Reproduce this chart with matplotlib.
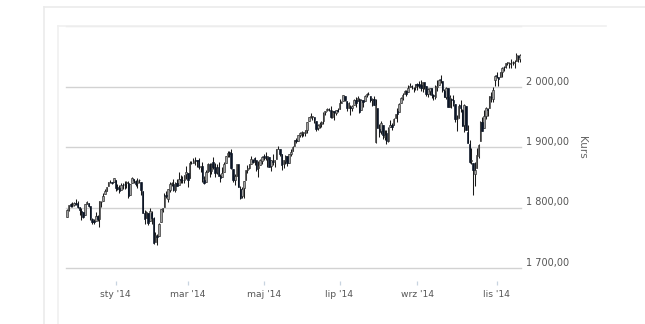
import matplotlib
matplotlib.use("Agg")
import matplotlib.pyplot as plt
import matplotlib.transforms as mtransforms
from matplotlib.lines import Line2D
import numpy as np
import pandas as pd

# Daily OHLC quotes, 21 Nov 2013 - 20 Nov 2014 (trading days only)
holidays = ["2013-11-28", "2013-12-25", "2014-01-01", "2014-01-20", "2014-02-17",
            "2014-04-18", "2014-05-26", "2014-07-04", "2014-09-01"]
start_date, end_date = "2013-11-21", "2014-11-20"

opens = [
    1783.5, 1796.0, 1806.3, 1802.9, 1803.5, 1808.0,
    1806.6, 1800.1, 1794.1, 1792.8, 1788.4, 1806.2, 1807.5, 1802.8, 1781.7, 1777.0, 1777.0,
    1786.5, 1781.5, 1809.0, 1810.4, 1822.9, 1828.0, 1834.9, 1842.9, 1841.5, 1842.6,
    1845.9, 1833.2, 1832.3, 1828.7, 1837.9, 1839.0, 1840.1, 1841.3, 1821.4, 1840.5, 1847.9,
    1844.2, 1841.1, 1844.7, 1842.3, 1826.9, 1791.0, 1783.0, 1790.2, 1777.2, 1790.9,
    1782.7, 1743.8, 1753.4, 1752.4, 1776.0, 1796.2, 1800.5, 1820.1, 1814.8, 1828.5, 1839.0,
    1838.9, 1829.2, 1841.1, 1836.8, 1847.7, 1845.8, 1844.9, 1855.1,
    1857.7, 1849.2, 1874.1, 1874.2, 1878.5, 1877.9, 1878.3, 1866.2, 1869.1, 1845.1, 1842.8,
    1858.9, 1872.3, 1860.1, 1874.5, 1867.7, 1859.5, 1867.1, 1852.1, 1850.1, 1859.2,
    1873.9, 1886.6, 1891.4, 1890.3, 1863.9, 1845.5, 1852.6, 1872.3, 1830.7, 1818.2, 1831.5,
    1846.0, 1861.7, 1865.8, 1872.6, 1879.3, 1881.0, 1877.7, 1865.0, 1870.8, 1877.1,
    1884.4, 1885.3, 1879.5, 1883.7, 1868.5, 1877.4, 1875.3, 1880.0, 1896.8, 1897.1, 1888.2,
    1871.2, 1876.7, 1884.9, 1873.3, 1888.2, 1893.3, 1902.0, 1911.8, 1910.6, 1920.3,
    1923.9, 1923.1, 1923.1, 1928.5, 1942.4, 1948.9, 1950.3, 1949.4, 1943.4, 1930.8, 1934.8,
    1937.2, 1942.7, 1957.5, 1960.5, 1962.9, 1961.9, 1949.3, 1959.9, 1956.6, 1960.8,
    1962.3, 1973.1, 1975.9, 1984.2, 1976.4, 1965.1, 1966.7, 1965.0, 1969.9, 1977.4, 1976.4,
    1979.8, 1961.5, 1976.9, 1975.7, 1985.3, 1988.1, 1984.6, 1978.3, 1980.0, 1907.5, 1965.1,
    1929.8, 1926.6, 1936.3, 1917.3, 1923.0, 1910.4, 1933.4, 1935.7, 1935.6, 1947.4, 1958.9,
    1958.4, 1972.7, 1980.5, 1986.8, 1992.6, 1991.7, 1998.6, 2000.5, 1997.4, 1998.5,
    2004.1, 2003.6, 2001.7, 1998.0, 2007.2, 2000.7, 1988.4, 1992.9, 1996.7, 1986.0, 1981.9,
    1999.3, 2003.1, 2012.7, 2009.1, 1992.8, 1983.3, 1997.3, 1966.2, 1978.9, 1978.2,
    1971.4, 1945.8, 1948.1, 1970.0, 1961.4, 1935.6, 1967.7, 1925.6, 1905.7, 1877.1, 1874.2,
    1855.9, 1864.9, 1885.6, 1909.4, 1941.3, 1931.0, 1951.6, 1962.0, 1964.1, 1983.3, 1979.5,
    2011.4,
    2018.2, 2015.8, 2015.3, 2023.3, 2032.4, 2032.0, 2038.2, 2037.8, 2039.2, 2039.7, 2038.3,
    2041.5, 2051.2, 2045.9,
]
highs = [
    1797.2, 1804.8, 1808.1, 1808.4, 1808.3, 1813.6,
    1811.5, 1800.1, 1799.8, 1792.8, 1806.0, 1811.5, 1808.0, 1802.8, 1782.0, 1780.8, 1792.2,
    1786.8, 1811.1, 1810.9, 1823.8, 1829.8, 1833.3, 1842.8, 1844.9, 1842.5, 1849.4,
    1845.9, 1838.2, 1837.2, 1840.1, 1840.0, 1843.2, 1843.2, 1843.5, 1839.3, 1850.8, 1847.9,
    1846.0, 1849.3, 1846.9, 1842.3, 1826.9, 1795.9, 1793.9, 1790.2, 1798.8, 1793.9,
    1784.8, 1758.7, 1755.8, 1774.1, 1798.0, 1799.9, 1823.5, 1826.6, 1830.3, 1841.7, 1842.9,
    1847.5, 1842.8, 1846.9, 1858.7, 1852.9, 1852.7, 1854.5, 1867.9,
    1857.7, 1876.2, 1876.5, 1881.9, 1883.6, 1877.9, 1882.4, 1868.4, 1874.4, 1852.4, 1862.3,
    1873.8, 1874.1, 1873.5, 1883.9, 1873.3, 1871.9, 1875.9, 1855.6, 1866.6, 1875.2,
    1885.8, 1893.2, 1893.8, 1897.3, 1864.0, 1854.9, 1872.4, 1872.5, 1835.1, 1834.2, 1844.0,
    1862.3, 1869.6, 1871.9, 1884.9, 1879.8, 1884.1, 1877.7, 1877.0, 1880.6, 1885.2,
    1888.6, 1891.3, 1885.5, 1883.7, 1878.8, 1889.1, 1878.6, 1897.1, 1902.2, 1897.1, 1888.2,
    1878.3, 1886.0, 1884.9, 1888.8, 1896.3, 1901.3, 1912.3, 1914.5, 1920.0, 1924.0,
    1925.9, 1925.1, 1928.6, 1941.7, 1949.4, 1955.6, 1950.9, 1949.4, 1943.7, 1937.3, 1941.2,
    1943.7, 1957.7, 1959.9, 1963.9, 1963.7, 1968.2, 1960.8, 1959.9, 1961.5, 1964.2,
    1978.6, 1976.7, 1985.6, 1984.2, 1976.4, 1973.8, 1969.8, 1968.7, 1979.9, 1982.5, 1983.9,
    1981.8, 1979.9, 1976.9, 1986.2, 1989.2, 1991.4, 1984.6, 1981.5, 1984.9, 1978.9, 1965.1,
    1937.4, 1942.9, 1936.3, 1927.9, 1928.9, 1932.4, 1944.9, 1939.5, 1948.4, 1955.2, 1964.0,
    1972.0, 1982.6, 1988.6, 1994.8, 1993.5, 2001.9, 2005.0, 2002.1, 1998.6, 2003.4,
    2006.1, 2009.3, 2011.2, 2007.7, 2007.2, 2001.0, 1996.7, 1997.7, 1996.7, 1987.2, 2002.3,
    2010.7, 2012.3, 2019.3, 2009.1, 1995.4, 1999.8, 1997.3, 1986.4, 1981.3, 1985.2,
    1971.4, 1952.3, 1971.2, 1977.8, 1962.4, 1970.4, 1967.7, 1936.0, 1912.1, 1898.7, 1874.2,
    1876.0, 1898.2, 1905.0, 1942.5, 1949.3, 1961.9, 1965.3, 1964.6, 1985.1, 1991.4, 1999.4,
    2018.2,
    2024.5, 2015.9, 2023.8, 2031.6, 2034.3, 2038.7, 2041.3, 2040.3, 2046.2, 2042.2, 2043.1,
    2056.1, 2052.1, 2053.8,
]
lows = [
    1783.5, 1794.7, 1800.6, 1800.8, 1802.6, 1803.9,
    1799.8, 1787.9, 1779.1, 1783.4, 1788.4, 1806.2, 1801.4, 1780.1, 1772.3, 1772.4, 1777.0,
    1777.2, 1767.9, 1801.3, 1810.4, 1822.9, 1828.0, 1834.9, 1839.8, 1838.8, 1842.4,
    1827.7, 1829.1, 1823.7, 1828.7, 1831.4, 1830.4, 1832.4, 1815.5, 1821.4, 1840.5, 1840.3,
    1835.2, 1832.4, 1840.9, 1820.1, 1790.3, 1772.9, 1783.0, 1770.5, 1777.2, 1772.3,
    1739.7, 1743.8, 1737.9, 1752.4, 1776.0, 1791.8, 1800.4, 1815.9, 1809.2, 1825.9, 1835.0,
    1826.8, 1824.9, 1835.6, 1836.8, 1840.2, 1840.7, 1841.1, 1847.5,
    1834.4, 1849.2, 1871.6, 1874.2, 1870.6, 1867.0, 1863.9, 1858.0, 1841.9, 1839.6, 1842.8,
    1858.9, 1850.4, 1854.6, 1863.5, 1849.7, 1855.9, 1852.6, 1842.1, 1850.1, 1859.2,
    1873.9, 1883.8, 1882.7, 1863.3, 1841.5, 1837.5, 1852.4, 1833.1, 1814.4, 1815.8, 1816.3,
    1846.0, 1856.7, 1863.2, 1872.6, 1873.9, 1870.2, 1859.7, 1850.6, 1870.8, 1872.7,
    1878.0, 1878.5, 1866.8, 1867.7, 1859.8, 1870.1, 1867.0, 1880.0, 1896.1, 1885.8, 1862.4,
    1864.8, 1872.4, 1868.1, 1873.3, 1885.4, 1893.3, 1902.0, 1906.5, 1909.8, 1916.6,
    1915.9, 1918.8, 1918.6, 1922.9, 1942.4, 1947.2, 1944.6, 1940.1, 1925.8, 1927.7, 1930.9,
    1933.6, 1937.4, 1952.3, 1959.2, 1958.9, 1948.3, 1947.5, 1944.7, 1953.0, 1958.2,
    1962.3, 1972.6, 1975.9, 1975.7, 1959.5, 1965.1, 1952.9, 1959.6, 1969.9, 1965.3, 1975.7,
    1955.6, 1960.8, 1965.8, 1975.7, 1982.4, 1985.8, 1974.4, 1967.3, 1969.9, 1906.9, 1930.7,
    1916.4, 1921.2, 1913.8, 1911.5, 1904.8, 1909.0, 1933.4, 1928.3, 1935.6, 1947.4, 1941.5,
    1958.4, 1972.7, 1977.7, 1986.8, 1984.8, 1991.7, 1998.6, 1996.2, 1990.5, 1994.7,
    1994.9, 1998.2, 1992.5, 1990.1, 1995.6, 1984.6, 1982.9, 1985.9, 1980.3, 1978.5, 1979.8,
    1993.3, 2003.1, 2006.6, 1991.0, 1982.4, 1978.6, 1965.9, 1966.2, 1964.0, 1968.0,
    1941.7, 1926.0, 1948.1, 1958.4, 1935.1, 1925.3, 1927.6, 1906.1, 1874.1, 1871.8, 1820.7,
    1835.0, 1864.9, 1882.3, 1909.4, 1926.8, 1931.0, 1946.3, 1951.4, 1964.1, 1974.8, 1974.0,
    2001.0,
    2013.7, 2001.0, 2015.3, 2015.9, 2025.7, 2030.2, 2035.3, 2031.3, 2030.4, 2035.2, 2030.2,
    2041.5, 2040.4, 2040.5,
]
closes = [
    1795.9, 1804.8, 1802.5, 1802.8, 1807.2, 1805.8,
    1800.9, 1795.2, 1792.8, 1785.0, 1805.1, 1808.4, 1802.6, 1782.2, 1775.5, 1775.3, 1786.5,
    1781.0, 1810.7, 1809.6, 1818.3, 1828.0, 1833.3, 1842.0, 1841.4, 1841.1, 1848.4,
    1832.0, 1831.4, 1826.8, 1837.9, 1837.5, 1838.1, 1842.4, 1819.2, 1838.9, 1848.4, 1845.9,
    1838.7, 1843.8, 1844.9, 1828.5, 1790.3, 1781.6, 1792.5, 1774.2, 1794.2, 1782.6,
    1741.9, 1755.2, 1751.6, 1773.4, 1797.0, 1799.8, 1819.8, 1819.3, 1829.8, 1838.6, 1840.8,
    1828.8, 1839.8, 1836.3, 1847.6, 1845.1, 1845.2, 1854.3, 1859.5,
    1845.7, 1873.9, 1873.8, 1877.0, 1878.0, 1877.2, 1867.6, 1868.2, 1846.3, 1841.1, 1858.8,
    1872.3, 1860.8, 1872.0, 1866.5, 1857.4, 1865.6, 1852.6, 1849.0, 1857.6, 1872.3,
    1885.5, 1890.9, 1888.8, 1865.1, 1845.0, 1852.0, 1872.2, 1833.1, 1815.7, 1830.6, 1843.0,
    1862.3, 1864.9, 1871.9, 1879.6, 1875.4, 1878.6, 1863.4, 1869.4, 1878.3, 1884.0,
    1883.7, 1881.1, 1884.7, 1867.7, 1878.2, 1875.6, 1878.5, 1896.7, 1897.5, 1888.5, 1870.9,
    1877.9, 1885.1, 1872.8, 1888.0, 1892.5, 1900.5, 1911.9, 1909.8, 1920.0, 1923.6,
    1925.0, 1924.2, 1927.9, 1940.5, 1949.4, 1951.3, 1950.8, 1943.9, 1930.1, 1936.2, 1937.8,
    1942.0, 1957.0, 1959.5, 1962.9, 1962.6, 1950.0, 1959.5, 1957.2, 1961.0, 1960.2,
    1973.3, 1974.6, 1985.4, 1977.7, 1963.7, 1972.8, 1964.7, 1967.6, 1977.1, 1973.3, 1981.6,
    1958.1, 1978.2, 1973.6, 1983.5, 1987.0, 1988.0, 1978.3, 1978.9, 1970.0, 1970.1, 1930.7,
    1925.2, 1939.0, 1920.2, 1920.2, 1909.6, 1931.6, 1936.9, 1933.8, 1946.7, 1955.2, 1955.1,
    1971.7, 1981.6, 1986.5, 1992.4, 1988.4, 1997.9, 2000.0, 2000.1, 1996.7, 2003.4,
    2002.3, 2000.7, 1997.7, 2007.7, 2001.5, 1988.4, 1995.7, 1997.5, 1985.5, 1984.1, 1999.0,
    2001.6, 2011.4, 2010.4, 1994.3, 1982.8, 1998.3, 1966.0, 1982.9, 1977.8, 1972.3,
    1946.2, 1946.2, 1967.9, 1964.8, 1935.1, 1968.9, 1928.2, 1906.1, 1874.7, 1877.7, 1862.5,
    1862.8, 1886.8, 1904.0, 1941.3, 1927.1, 1950.8, 1964.6, 1961.6, 1985.1, 1982.3, 1994.7,
    2018.1,
    2017.8, 2012.1, 2023.6, 2031.2, 2031.9, 2038.3, 2039.7, 2038.3, 2039.3, 2039.8, 2041.3,
    2051.8, 2048.7, 2052.8,
]

month_ticks = ["2014-01-01", "2014-03-01", "2014-05-01", "2014-07-01", "2014-09-01", "2014-11-01"]
month_labels = ["sty '14", "mar '14", "maj '14", "lip '14", "wrz '14", "lis '14"]
y_ticks = [1700, 1800, 1900, 2000]
y_grid = [1700, 1800, 1900, 2000, 2100]
y_axis_title = "Kurs"

# ---------------------------------------------------------------------------
dates = pd.bdate_range(start_date, end_date, freq="C", holidays=holidays)
n = len(closes)
assert len(dates) == n == len(opens) == len(highs) == len(lows)

o = np.array(opens)
h = np.array(highs)
l = np.array(lows)
c = np.array(closes)
x = np.arange(n)
up = c >= o

W, H = 645, 324
fig = plt.figure(figsize=(W / 100, H / 100), dpi=100)
fig.patch.set_facecolor("white")

def fx(px):
    return px / W

def fy(py):
    return 1 - py / H

# panel frames
frame_col = "#ebebeb"
fig.add_artist(Line2D([fx(44), fx(645)], [fy(6.5), fy(6.5)], color=frame_col, lw=1.2))
fig.add_artist(Line2D([fx(44), fx(44)], [fy(6.5), 0], color=frame_col, lw=1.2))
fig.add_artist(Line2D([fx(58), fx(606)], [fy(25.5), fy(25.5)], color="#f0f0f0", lw=1.2))
fig.add_artist(Line2D([fx(58), fx(58)], [fy(25.5), 0], color="#f0f0f0", lw=1.2))

ax_left, ax_right = 66, 521
ax_top, ax_bottom = 26, 268
ax = fig.add_axes([fx(ax_left), fy(ax_bottom), fx(ax_right - ax_left), (ax_bottom - ax_top) / H])
ax.set_facecolor("none")
ax.set_xlim(-0.5, n - 0.5)
ax.set_ylim(1700, 2100)

for g in y_grid:
    ax.axhline(g, color="#d2d2d2" if g < 2100 else "#e4e4e4", lw=1.0, zorder=0, clip_on=False)

# candles
ax.vlines(x, l, h, color="#1a1a1a", lw=0.75, zorder=2)
body_w = 0.8
ax.bar(x[up], (c - o)[up], bottom=o[up], width=body_w, color="#a0a0a0",
       edgecolor="#2a2a2a", linewidth=0.45, zorder=3)
ax.bar(x[~up], (c - o)[~up], bottom=o[~up], width=body_w, color="#0b1526",
       edgecolor="#0b1526", linewidth=0.45, zorder=3)

for s in ["top", "left", "right"]:
    ax.spines[s].set_visible(False)
ax.spines["bottom"].set_position(("outward", 9))
ax.spines["bottom"].set_color("none")
ax.set_yticks([])

tick_idx = [int(np.searchsorted(dates.values, np.datetime64(m))) for m in month_ticks]
ax.set_xticks(tick_idx)
ax.set_xticklabels(month_labels)
ax.tick_params(axis="x", length=3.2, width=0.9, color="#c8d4e0", pad=3.3,
               labelsize=6.6, labelcolor="#555555")

text_col = "#555555"
trans = mtransforms.blended_transform_factory(ax.transAxes, ax.transData) + \
    mtransforms.ScaledTranslation(0, 5 / 100, fig.dpi_scale_trans)
for v in y_ticks:
    label = f"{v:,.2f}".replace(",", " ").replace(".", ",")
    ax.text((526 - ax_left) / (ax_right - ax_left), v, label, transform=trans,
            ha="left", va="center", fontsize=7, color=text_col)

fig.text(fx(582), fy(147), y_axis_title, rotation=-90, ha="center", va="center",
         fontsize=7.5, color="#666666")

fig.savefig("out.png", dpi=100, facecolor="white")
